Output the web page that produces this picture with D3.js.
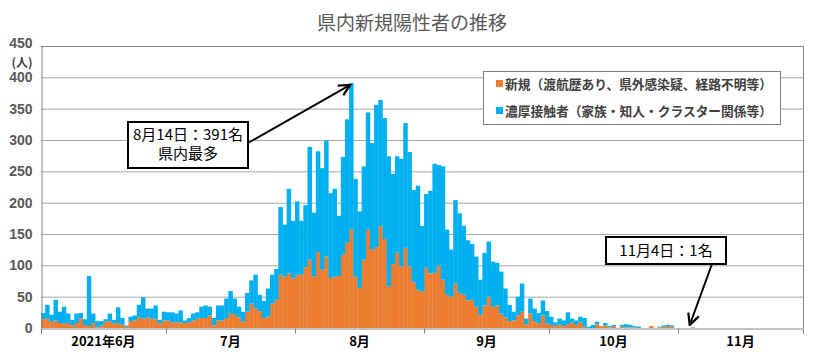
<!DOCTYPE html>
<html><head><meta charset="utf-8">
<script src="https://cdn.jsdelivr.net/npm/d3@7/dist/d3.min.js"></script>
<style>
html,body{margin:0;padding:0;background:#fff;}
svg{display:block;font-family:"Noto Sans CJK JP","Noto Sans",sans-serif;}
</style></head><body>
<svg id="chart" width="823" height="359"></svg>
<script>
// ---- data ----
const startDate = "2021-06-01";
const monthLabels = ["2021年6月","7月","8月","9月","10月","11月"];
const yTicks = [0,50,100,150,200,250,300,350,400,450];
const seriesNames = ["新規（渡航歴あり、県外感染疑、経路不明等）","濃厚接触者（家族・知人・クラスター関係等）"];
// 新規 (orange)
const newJun = [14,15,10,12,8,7,8,4,8,15,5,3,8,1,4,10,11,7,8,5,2,11,12,17,15,17,15,14,7,12];
const newJul = [12,9,9,9,8,9,12,15,16,16,20,4,12,12,16,24,21,17,10,26,39,31,27,16,18,39,45,85,82,87,79];
const newAug = [85,85,97,109,82,121,93,114,80,82,83,117,136,157,82,64,109,157,125,129,163,142,66,102,120,98,128,98,73,61,58];
const newSep = [96,87,88,99,77,53,50,71,56,53,44,45,34,21,36,50,34,36,23,17,11,12,20,26,6,23,11,7,20,7];
const newOct = [5,3,6,3,6,9,5,10,2,0,0,6,3,4,1,3,0,2,1,1,1,0,0,0,3,0,1,2,3,2,0];
const newNov = [0,0,0,1,0,0,0,0,0,0,0,0,0,0,0,0,0,0,0,0,0,0,0,0,0,0,0,0,0,0];
// 濃厚接触者 (blue)
const conJun = [10,22,11,33,18,27,15,9,15,9,9,80,15,10,7,4,12,6,25,11,2,7,8,20,34,14,16,22,6,14];
const conJul = [13,16,14,19,4,7,11,10,18,20,14,12,24,24,31,35,26,17,16,30,37,54,26,27,45,46,49,108,83,135,92];
const conAug = [117,86,99,180,102,161,162,185,135,140,96,156,197,234,156,122,149,187,170,227,201,193,208,144,154,172,199,183,147,166,105];
const conSep = [118,132,174,161,181,104,75,133,127,110,96,89,80,56,84,88,72,68,67,46,26,14,30,45,9,24,20,17,24,20];
const conOct = [13,6,9,9,19,6,7,8,14,2,5,4,0,4,2,2,0,3,5,4,2,2,0,0,0,0,1,2,2,2,0];
const conNov = [0,0,0,0,0,0,0,0,0,0,0,0,0,0,0,0,0,0,0,0,0,0,0,0,0,0,0,0,0,0];

const newCases = [...newJun,...newJul,...newAug,...newSep,...newOct,...newNov];
const contactCases = [...conJun,...conJul,...conAug,...conSep,...conOct,...conNov];

const parse = d3.utcParse("%Y-%m-%d");
const t0 = parse(startDate);
const dates = newCases.map((_, i) => d3.utcDay.offset(t0, i));
const table = dates.map((d, i) => ({date: d, newc: newCases[i], contact: contactCases[i]}));

// ---- layout ----
const L = 41, R = 803, T = 46, B = 328;
const COL_NEW = "#ED7D31", COL_CON = "#00B0F0";
const svg = d3.select("#chart");

const tEnd = d3.utcDay.offset(t0, dates.length);
const xTime = d3.scaleUtc().domain([t0, tEnd]).range([L, R]);
const x = d3.scaleBand().domain(dates.map(d => +d)).range([L, R]).padding(0);
const y = d3.scaleLinear().domain([0, 450]).range([B, T]);

// title
svg.append("text").attr("x", 412).attr("y", 30).attr("text-anchor", "middle")
  .attr("font-size", 19).attr("fill", "#595959").text("県内新規陽性者の推移");

// gridlines
svg.append("g").selectAll("line").data(yTicks.filter(v => v > 0)).join("line")
  .attr("x1", L).attr("x2", R).attr("y1", d => y(d) + 0.5).attr("y2", d => y(d) + 0.5)
  .attr("stroke", "#a6a6a6").attr("stroke-width", 1);

// bars
const stack = d3.stack().keys(["newc", "contact"])(table);
const colors = [COL_NEW, COL_CON];
svg.append("g").selectAll("g").data(stack).join("g").attr("fill", (d, i) => colors[i])
  .selectAll("rect").data(d => d).join("rect")
  .attr("x", d => x(+d.data.date))
  .attr("width", x.bandwidth() + 0.3)
  .attr("y", d => y(d[1]))
  .attr("height", d => Math.max(0, y(d[0]) - y(d[1])));

// frame (right & top)
svg.append("path").attr("d", `M${L},${T+0.5}H${R+0.5}V${B}`).attr("fill", "none")
  .attr("stroke", "#868686").attr("stroke-width", 1);

// y axis
const yAxis = svg.append("g").attr("transform", `translate(${L+0.5},0)`)
  .call(d3.axisLeft(y).tickValues(yTicks).tickSize(0).tickPadding(9));
yAxis.select(".domain").attr("stroke", "#868686");
yAxis.selectAll("text").attr("font-family", "Liberation Sans, Arial, sans-serif")
  .attr("font-size", 14).attr("fill", "#595959").attr("font-weight", "bold");
yAxis.selectAll(".tick").filter(d => d === 450).select("text").attr("dy", "0.1em");
svg.append("text").attr("x", 22).attr("y", 67).attr("text-anchor", "middle")
  .attr("font-size", 12).attr("fill", "#404040").attr("font-weight", "bold").text("(人)");

// x axis
const monthStarts = d3.utcMonth.range(t0, d3.utcDay.offset(tEnd, 1));
const xAxis = svg.append("g").attr("transform", `translate(0,${B+0.5})`)
  .call(d3.axisBottom(xTime).tickValues(monthStarts).tickSize(5).tickFormat(""));
xAxis.select(".domain").attr("stroke", "#868686");
xAxis.selectAll(".tick line").attr("stroke", "#868686");
svg.append("g").selectAll("text").data(monthStarts.slice(0, monthLabels.length)).join("text")
  .attr("x", d => (xTime(d) + xTime(d3.utcMonth.offset(d, 1))) / 2)
  .attr("y", 346).attr("text-anchor", "middle").attr("font-size", 13).attr("font-weight", "bold")
  .attr("fill", "#000").text((d, i) => monthLabels[i]);

// legend
const lg = svg.append("g");
lg.append("rect").attr("x", 483.5).attr("y", 71.5).attr("width", 297).attr("height", 53)
  .attr("fill", "#fff").attr("stroke", "#808080");
seriesNames.forEach((name, i) => {
  const yy = 84 + i * 27;
  lg.append("rect").attr("x", 496).attr("y", yy - 4).attr("width", 7).attr("height", 7).attr("fill", colors[i]);
  lg.append("text").attr("x", 505).attr("y", yy + 4.5).attr("font-size", 13).attr("fill", "#404040")
    .attr("font-weight", "bold").attr("textLength", 267).attr("lengthAdjust", "spacingAndGlyphs").text(name);
});

// annotations
svg.append("defs").append("marker").attr("id", "arr").attr("viewBox", "0 0 10 10")
  .attr("refX", 9).attr("refY", 5).attr("markerWidth", 7).attr("markerHeight", 7).attr("orient", "auto")
  .append("path").attr("d", "M1,1L9,5L1,9").attr("fill", "none").attr("stroke", "#000").attr("stroke-width", 1.6);

const peakIdx = d3.maxIndex(table, d => d.newc + d.contact);
const peak = table[peakIdx];
const px = x(+peak.date) + x.bandwidth() / 2, py = y(peak.newc + peak.contact);
svg.append("line").attr("x1", 248).attr("y1", 143).attr("x2", px - 1).attr("y2", py + 2)
  .attr("stroke", "#000").attr("stroke-width", 2).attr("marker-end", "url(#arr)");
svg.append("rect").attr("x", 128).attr("y", 122).attr("width", 120).attr("height", 46)
  .attr("fill", "#fff").attr("stroke", "#000").attr("stroke-width", 2);
svg.append("text").attr("x", 188).attr("y", 140).attr("text-anchor", "middle").attr("font-size", 15)
  .attr("fill", "#000").text("8月14日：391名");
svg.append("text").attr("x", 188).attr("y", 159).attr("text-anchor", "middle").attr("font-size", 15)
  .attr("fill", "#000").text("県内最多");

const lastIdx = 157; // 11月4日
const lx = x(+table[lastIdx].date) - 5;
svg.append("line").attr("x1", 712).attr("y1", 264).attr("x2", lx).attr("y2", y(0) - 3)
  .attr("stroke", "#000").attr("stroke-width", 2).attr("marker-end", "url(#arr)");
svg.append("rect").attr("x", 606).attr("y", 237).attr("width", 120).attr("height", 27)
  .attr("fill", "#fff").attr("stroke", "#000").attr("stroke-width", 2);
svg.append("text").attr("x", 666).attr("y", 256).attr("text-anchor", "middle").attr("font-size", 15)
  .attr("fill", "#000").text("11月4日：1名");
</script>
</body></html>
